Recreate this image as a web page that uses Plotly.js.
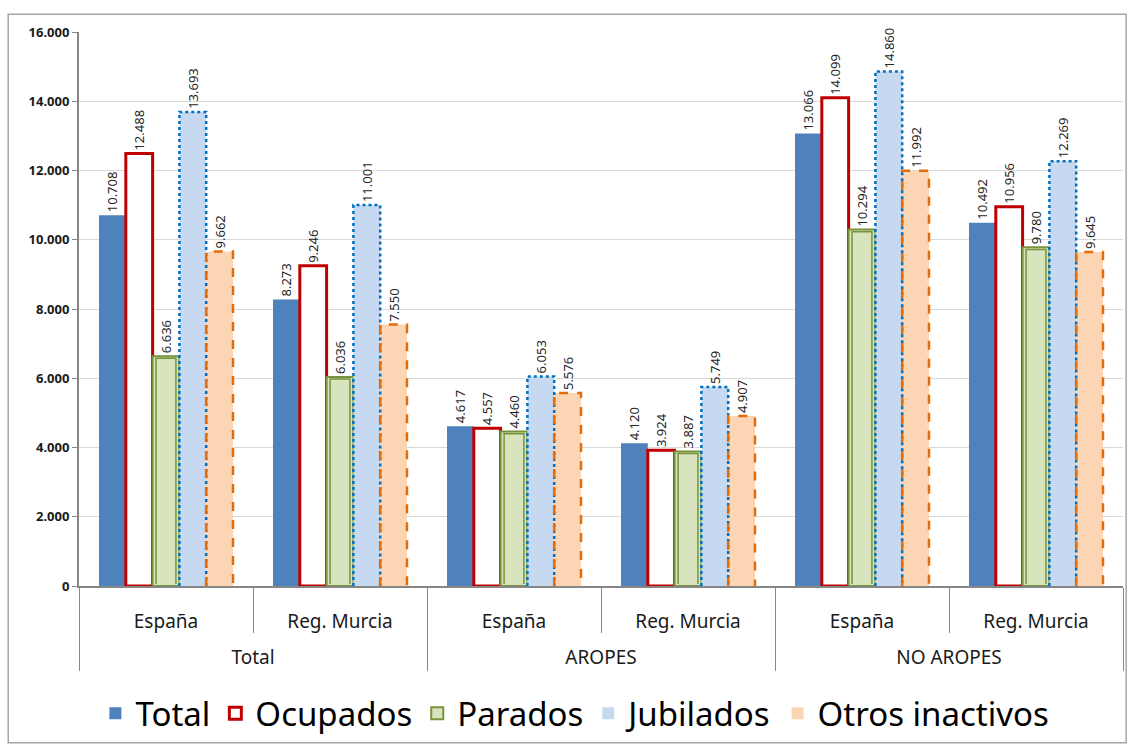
<!DOCTYPE html>
<html><head><meta charset="utf-8">
<script src="https://cdn.plot.ly/plotly-3.0.1.min.js"></script>
<style>html,body{margin:0;padding:0;background:#fff}#chart{width:1127px;height:745px}</style>
</head><body><div id="chart"></div>
<script>
const groups = ["Total","Total","AROPES","AROPES","NO AROPES","NO AROPES"];
const regions = ["España","Reg. Murcia","España","Reg. Murcia","España","Reg. Murcia"];
const seriesNames = ["Total","Ocupados","Parados","Jubilados","Otros inactivos"];
const totalVals = [10708, 8273, 4617, 4120, 13066, 10492];
const ocupadosVals = [12488, 9246, 4557, 3924, 14099, 10956];
const paradosVals = [6636, 6036, 4460, 3887, 10294, 9780];
const jubiladosVals = [13693, 11001, 6053, 5749, 14860, 12269];
const otrosVals = [9662, 7550, 5576, 4907, 11992, 9645];
const yTicks = [0,2000,4000,6000,8000,10000,12000,14000,16000];

const allVals = [totalVals, ocupadosVals, paradosVals, jubiladosVals, otrosVals];
const fills = ["#4F81BD","#FFFFFF","#D7E4BD","#C6D9F1","#FCD5B5"];
const lineCols = ["#4F81BD","#C00000","#77933C","#0070C0","#E46C0A"];
const lineW = [0,3,2,0,0];
const bargap = 0.23;
const fmt = v => v.toLocaleString('de-DE');
const regionLabels = regions.map(r => r + '<br>&nbsp;');

const traces = allVals.map((vals,k)=>({
  type:'bar', name:seriesNames[k], x:[groups, regionLabels], y:vals,
  text: vals.map(fmt), textposition:'outside', textangle:-90, constraintext:'none',
  cliponaxis:false,
  textfont:{family:'Noto Sans, sans-serif', size:13, color:'#262626'},
  marker:{color:fills[k], line:{color:lineCols[k], width:lineW[k]}},
  hoverinfo:'skip'
}));

const w = (1-bargap)/5;
function outline(k, inset){
  const xs=[], ys=[];
  allVals[k].forEach((v,i)=>{
    const c = i - (1-bargap)/2 + w*(k+0.5);
    const x0=c-w/2+inset, x1=c+w/2-inset;
    xs.push(x0,x0,x1,x1,null);
    ys.push(0,v,v,0,null);
  });
  return {xs,ys};
}
const dashSpec = [[3,'dot',2.5,0],[4,'dash',2.5,0]];
dashSpec.forEach(([k,dash,wd,ins])=>{
  const o = outline(k,ins);
  traces.push({type:'scatter', mode:'lines', x:o.xs, y:o.ys, xaxis:'x2', yaxis:'y',
    line:{color:lineCols[k], width:wd, dash:dash}, showlegend:false, hoverinfo:'skip', cliponaxis:false});
});
{
  const o = outline(2, 0.02);
  const ys = o.ys.map((y,i)=> y===null?null:(y===0?60:y-60));
  traces.push({type:'scatter', mode:'lines', x:o.xs, y:ys, xaxis:'x2', yaxis:'y',
    line:{color:'#77933C', width:1.5}, showlegend:false, hoverinfo:'skip'});
}

const layout = {
  width:1127, height:745,
  margin:{l:79, r:4, t:32, b:155},
  paper_bgcolor:'#fff', plot_bgcolor:'#fff',
  separators:',.',
  barmode:'group', bargap:bargap, bargroupgap:0,
  font:{family:'Noto Sans, sans-serif', color:'#1a1a1a'},
  xaxis:{type:'multicategory', range:[-0.5,5.5], showline:true, linecolor:'#868686', linewidth:2,
    showgrid:false, ticks:'outside', ticklen:45, tickcolor:'#868686', tickson:'boundaries',
    ticklabelstandoff:17, automargin:false,
    showdividers:true, dividercolor:'#868686', dividerwidth:1,
    tickfont:{family:'Noto Sans, sans-serif', size:19, color:'#1a1a1a'}},
  xaxis2:{overlaying:'x', range:[-0.5,5.5], visible:false, showgrid:false, zeroline:false},
  yaxis:{range:[0,16000], tickvals:yTicks, tickformat:',.0f', showline:true, linecolor:'#868686', linewidth:2,
    gridcolor:'#D9D9D9', gridwidth:1, ticks:'outside', ticklen:5, tickcolor:'#868686', zeroline:false,
    automargin:false,
    tickfont:{family:'Noto Sans, sans-serif', size:13, color:'#1a1a1a', weight:'bold'}},
  legend:{orientation:'h', x:0.475, xanchor:'center', y:-0.23, yanchor:'middle',
    font:{family:'Noto Sans, sans-serif', size:33, color:'#000'}, itemwidth:30},
  shapes:[{type:'rect', xref:'paper', yref:'paper', x0:-0.0678, x1:1.003, y0:-0.283, y1:1.032,
    line:{color:'#A6A6A6', width:1.5}, fillcolor:'rgba(0,0,0,0)', layer:'below'}],
  showlegend:true
};
Plotly.newPlot('chart', traces, layout, {displayModeBar:false, staticPlot:true});
</script></body></html>
